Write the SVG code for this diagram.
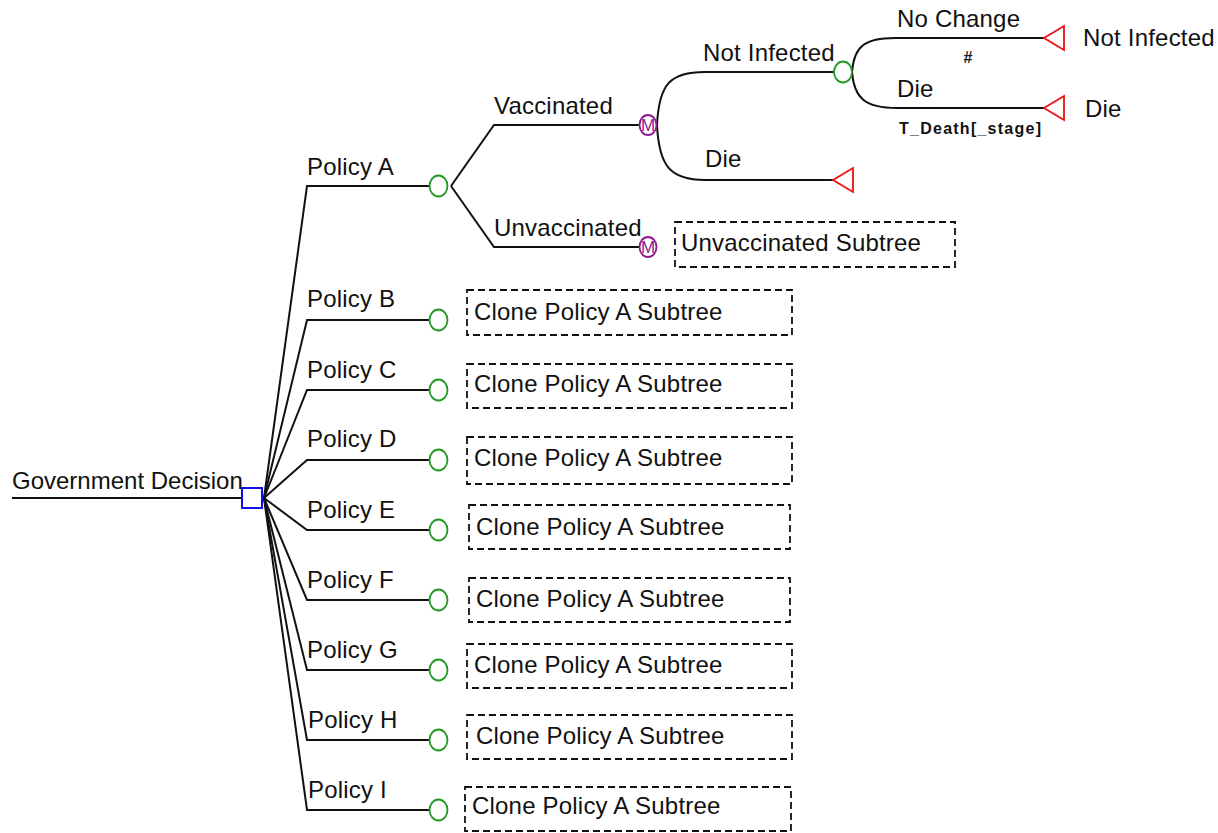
<svg xmlns="http://www.w3.org/2000/svg" width="1218" height="833" viewBox="0 0 1218 833">
  <style>
    .ln { fill: none; stroke: #111; stroke-width: 2; }
    .chance { fill: none; stroke: #1f9a1f; stroke-width: 1.8; }
    .markov { fill: none; stroke: #8e1a92; stroke-width: 1.8; }
    .mk { font-family: "Liberation Sans", Arial, sans-serif; font-size: 17px; fill: #8e1a92; text-anchor: middle; }
    .term { fill: none; stroke: #f01010; stroke-width: 1.8; }
    .dec { fill: none; stroke: #1010ee; stroke-width: 2; }
    .box { fill: none; stroke: #111; stroke-width: 1.8; stroke-dasharray: 7 4; }
    .lbl { font-family: "Liberation Sans", Arial, sans-serif; font-size: 24px; fill: #111; letter-spacing: 0.2px; }
    .sm { font-family: "Liberation Sans", Arial, sans-serif; font-size: 16px; font-weight: bold; fill: #111; }
  </style>

  <rect width="1218" height="833" fill="#fff"/>

  <!-- branches -->
  <g id="connectors">
    <line class="ln" x1="12" y1="498" x2="242" y2="498"/>
    <!-- decision fan -->
    <polyline class="ln" points="264,498 307,186 429.5,186"/>
    <polyline class="ln" points="264,498 307,320 429.5,320"/>
    <polyline class="ln" points="264,498 307,390 429.5,390"/>
    <polyline class="ln" points="264,498 307,460 429.5,460"/>
    <polyline class="ln" points="264,498 307,530 429.5,530"/>
    <polyline class="ln" points="264,498 307,600 429.5,600"/>
    <polyline class="ln" points="264,498 307,670 429.5,670"/>
    <polyline class="ln" points="264,498 307,740 429.5,740"/>
    <polyline class="ln" points="264,498 307,810 429.5,810"/>
    <!-- Policy A chance -->
    <polyline class="ln" points="451,186 494,125 639,125"/>
    <polyline class="ln" points="451,186 494,247 639,247"/>
    <!-- Vaccinated markov -->
    <path class="ln" d="M657,125 C659,84 670,72 705,72 L834,72"/>
    <path class="ln" d="M657,125 C659,166 670,180 705,180 L833,180"/>
    <!-- Not Infected chance -->
    <path class="ln" d="M852,72 C854,46 865,38 895,38 L1044,38"/>
    <path class="ln" d="M852,72 C854,98 865,108 897,108 L1044,108"/>
  </g>

  <g id="branch-labels">
    <text class="lbl" x="12" y="489" style="letter-spacing:0">Government Decision</text>
    <text class="lbl" x="307" y="175">Policy A</text>
    <text class="lbl" x="307" y="307">Policy B</text>
    <text class="lbl" x="307" y="378">Policy C</text>
    <text class="lbl" x="307" y="447">Policy D</text>
    <text class="lbl" x="307" y="518">Policy E</text>
    <text class="lbl" x="307" y="588">Policy F</text>
    <text class="lbl" x="307" y="658">Policy G</text>
    <text class="lbl" x="308" y="728">Policy H</text>
    <text class="lbl" x="308" y="798">Policy I</text>
    <text class="lbl" x="494" y="114">Vaccinated</text>
    <text class="lbl" x="494" y="236">Unvaccinated</text>
    <text class="lbl" x="703" y="61">Not Infected</text>
    <text class="lbl" x="705" y="167">Die</text>
    <text class="lbl" x="897" y="27">No Change</text>
    <text class="lbl" x="897" y="97">Die</text>
    <text class="sm" x="968" y="63" text-anchor="middle">#</text>
    <text class="sm" x="899" y="134" textLength="142" lengthAdjust="spacing">T_Death[_stage]</text>
  </g>

  <!-- decision node -->
  <g id="node-government-decision">
    <rect class="dec" x="242" y="488" width="20" height="20"/>
  </g>

  <!-- chance nodes -->
  <g id="node-policy-a"><ellipse class="chance" cx="438.5" cy="186" rx="9" ry="10.5"/></g>
  <g id="node-policy-b"><ellipse class="chance" cx="438.5" cy="320" rx="9" ry="10.5"/></g>
  <g id="node-policy-c"><ellipse class="chance" cx="438.5" cy="390" rx="9" ry="10.5"/></g>
  <g id="node-policy-d"><ellipse class="chance" cx="438.5" cy="460" rx="9" ry="10.5"/></g>
  <g id="node-policy-e"><ellipse class="chance" cx="438.5" cy="530" rx="9" ry="10.5"/></g>
  <g id="node-policy-f"><ellipse class="chance" cx="438.5" cy="600" rx="9" ry="10.5"/></g>
  <g id="node-policy-g"><ellipse class="chance" cx="438.5" cy="670" rx="9" ry="10.5"/></g>
  <g id="node-policy-h"><ellipse class="chance" cx="438.5" cy="740" rx="9" ry="10.5"/></g>
  <g id="node-policy-i"><ellipse class="chance" cx="438.5" cy="810" rx="9" ry="10.5"/></g>
  <g id="node-not-infected"><ellipse class="chance" cx="843" cy="72" rx="9" ry="10.5"/></g>

  <!-- markov nodes -->
  <g id="node-vaccinated">
    <ellipse class="markov" cx="648" cy="125" rx="8.5" ry="10"/>
    <text class="mk" x="648" y="131">M</text>
  </g>
  <g id="node-unvaccinated">
    <ellipse class="markov" cx="648" cy="247" rx="8.5" ry="10"/>
    <text class="mk" x="648" y="253">M</text>
  </g>

  <!-- terminal nodes -->
  <g id="node-term-not-infected">
    <polygon class="term" points="1044,38 1064,26 1064,50"/>
    <text class="lbl" x="1083" y="46">Not Infected</text>
  </g>
  <g id="node-term-die">
    <polygon class="term" points="1044,108 1064,96 1064,120"/>
    <text class="lbl" x="1085" y="117">Die</text>
  </g>
  <g id="node-term-vacc-die">
    <polygon class="term" points="833,180 853,168 853,192"/>
  </g>

  <!-- collapsed subtrees -->
  <g id="subtree-unvaccinated">
    <rect class="box" x="675" y="222" width="280" height="45"/>
    <text class="lbl" x="681" y="251">Unvaccinated Subtree</text>
  </g>
  <g id="subtree-policy-b">
    <rect class="box" x="467" y="290" width="325" height="45"/>
    <text class="lbl" x="474" y="320">Clone Policy A Subtree</text>
  </g>
  <g id="subtree-policy-c">
    <rect class="box" x="467" y="364" width="325" height="44"/>
    <text class="lbl" x="474" y="392">Clone Policy A Subtree</text>
  </g>
  <g id="subtree-policy-d">
    <rect class="box" x="467" y="437" width="325" height="47"/>
    <text class="lbl" x="474" y="466">Clone Policy A Subtree</text>
  </g>
  <g id="subtree-policy-e">
    <rect class="box" x="469" y="505" width="321" height="44"/>
    <text class="lbl" x="476" y="535">Clone Policy A Subtree</text>
  </g>
  <g id="subtree-policy-f">
    <rect class="box" x="469" y="578" width="321" height="44"/>
    <text class="lbl" x="476" y="607">Clone Policy A Subtree</text>
  </g>
  <g id="subtree-policy-g">
    <rect class="box" x="467" y="644" width="325" height="44"/>
    <text class="lbl" x="474" y="673">Clone Policy A Subtree</text>
  </g>
  <g id="subtree-policy-h">
    <rect class="box" x="467" y="715" width="325" height="44"/>
    <text class="lbl" x="476" y="744">Clone Policy A Subtree</text>
  </g>
  <g id="subtree-policy-i">
    <rect class="box" x="465" y="787" width="326" height="44"/>
    <text class="lbl" x="472" y="814">Clone Policy A Subtree</text>
  </g>
</svg>
